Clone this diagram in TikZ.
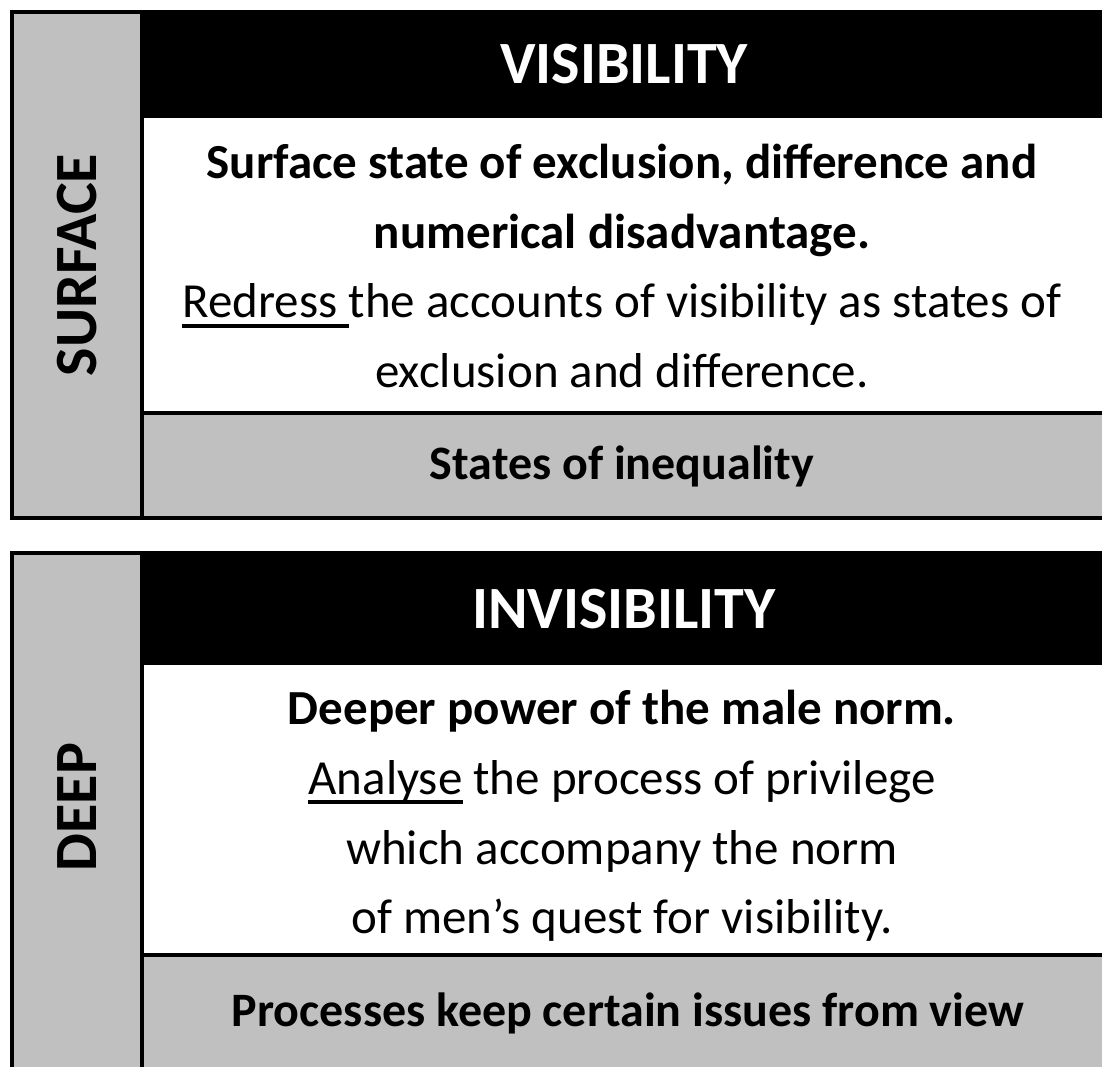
\documentclass[tikz,border=0pt]{standalone}
\usepackage{fontspec}
\setmainfont{Carlito}
\usetikzlibrary{positioning}
\tikzset{
	rule/.style = {draw=black, line width=2pt},
	heading/.style = {text=white, font=\bfseries\fontsize{30}{36}\selectfont},
	sidelabel/.style = {rotate=90, font=\bfseries\fontsize{30}{36}\selectfont},
	body/.style = {align=center, font=\fontsize{24.5}{34.8}\selectfont},
	footer/.style = {font=\bfseries\fontsize{24}{27}\selectfont},
}
\definecolor{xgray}{HTML}{C0C0C0}
\newcommand{\ulword}[1]{\setbox0\hbox{#1}\rlap{\rule[-5pt]{\wd0}{2pt}}\box0\relax}

\begin{document}
\begin{tikzpicture}[x=0.5pt, y=-0.5pt]
	\useasboundingbox (0,0) rectangle (1102,1066);
	\clip (0,0) rectangle (1102,1066);
	% upper block
	\fill[black] (142,12) rectangle (1110,118);
	\fill[xgray] (12,12) rectangle (142,518);
	\fill[xgray] (142,413) rectangle (1110,518);
	\draw[rule] (12,12) rectangle (1110,518);
	\draw[rule] (142,12) -- (142,518);
	\draw[rule] (142,413) -- (1110,413);
	\node[sidelabel] (surface) at (77,265) {SURFACE};
	\node[heading] (visibility) at (624,64) {VISIBILITY};
	\node[body] (upperText) at (622,266) {\textbf{Surface state of exclusion, difference and}\\
		\textbf{numerical disadvantage.}\\
		\ulword{Redress\ }the accounts of visibility as states of\\
		exclusion and difference.};
	\node[footer] (inequality) at (622,466) {States of inequality};
	% lower block
	\fill[black] (142,553) rectangle (1110,665);
	\fill[xgray] (12,553) rectangle (142,1080);
	\fill[xgray] (142,955) rectangle (1110,1080);
	\draw[rule] (12,553) rectangle (1110,1080);
	\draw[rule] (142,553) -- (142,1080);
	\draw[rule] (142,955) -- (1110,955);
	\node[sidelabel] (deep) at (77,807) {DEEP};
	\node[heading] (invisibility) at (624,609) {INVISIBILITY};
	\node[body] (lowerText) at (622,816) {\textbf{Deeper power of the male norm.}\\
		\ulword{Analyse} the process of privilege\\
		which accompany the norm\\
		of men’s quest for visibility.};
	\node[footer] (processes) at (628,1013) {Processes keep certain issues from view};
\end{tikzpicture}
\end{document}
